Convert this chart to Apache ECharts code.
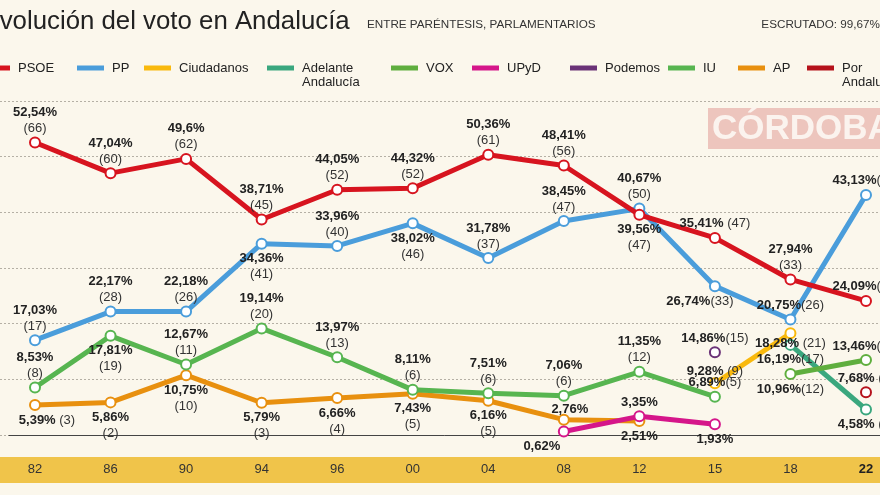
<!DOCTYPE html>
<html>
<head>
<meta charset="utf-8">
<script src="https://cdn.jsdelivr.net/npm/echarts@6/dist/echarts.min.js"></script>
<style>
html,body{margin:0;padding:0;background:#fbf7ec;}
#c{width:880px;height:495px;}
</style>
</head>
<body>
<div id="c"></div>
<script>
// ---------- DATA ----------
const years = ['82','86','90','94','96','00','04','08','12','15','18','22'];
const psoe      = [52.54,47.04,49.6,38.71,44.05,44.32,50.36,48.41,39.56,35.41,27.94,24.09];
const psoeSeats = [66,60,62,45,52,52,61,56,47,47,33,30];
const pp        = [17.03,22.17,22.18,34.36,33.96,38.02,31.78,38.45,40.67,26.74,20.75,43.13];
const ppSeats   = [17,28,26,41,40,46,37,47,50,33,26,58];
const cs        = [null,null,null,null,null,null,null,null,null,9.28,18.28,null];
const csSeats   = [null,null,null,null,null,null,null,null,null,9,21,null];
const adelante      = [null,null,null,null,null,null,null,null,null,null,16.19,4.58];
const adelanteSeats = [null,null,null,null,null,null,null,null,null,null,17,2];
const vox       = [null,null,null,null,null,null,null,null,null,null,10.96,13.46];
const voxSeats  = [null,null,null,null,null,null,null,null,null,null,12,14];
const upyd      = [null,null,null,null,null,null,null,0.62,3.35,1.93,null,null];
const upydSeats = [null,null,null,null,null,null,null,null,null,null,null,null];
const podemos      = [null,null,null,null,null,null,null,null,null,14.86,null,null];
const podemosSeats = [null,null,null,null,null,null,null,null,null,15,null,null];
const iu        = [8.53,17.81,12.67,19.14,13.97,8.11,7.51,7.06,11.35,6.89,null,null];
const iuSeats   = [8,19,11,20,13,6,6,6,12,5,null,null];
const ap        = [5.39,5.86,10.75,5.79,6.66,7.43,6.16,2.76,2.51,null,null,null];
const apSeats   = [3,2,10,3,4,5,5,null,null,null,null,null];
const porAnd      = [null,null,null,null,null,null,null,null,null,null,null,7.68];
const porAndSeats = [null,null,null,null,null,null,null,null,null,null,null,5];

// ---------- STYLE ----------
const colors = {
  'PSOE':'#d7141f','PP':'#4a9ddb','Ciudadanos':'#f9b90d','Adelante Andalucía':'#3aa77e',
  'VOX':'#5fae3e','UPyD':'#d5168a','Podemos':'#6a3277','IU':'#57b550','AP':'#e8900f','Por Andalucía':'#b5121b'
};
// label placement per point: t/b = two lines above/below, t1/b1 = one line; sp = space before seats
const place = {
  'PSOE': ['t','t','t','t','t','t','t','t','b',{p:'t1',sp:1},'t','t1'],
  'PP':   ['t','t','t','b','t','b','t','t','t',{p:'b1',dx:-15},'t1','t1'],
  'IU':   ['t','b','t','t','t','t','t','t','t','t1'],
  'AP':   [{p:'b1',dx:12,sp:1},'b','b','b','b','b','b',{p:'t1',dx:6,d:-4},'b1'],
  'UPyD': [null,null,null,null,null,null,null,{p:'b1',dx:-22},'t1','b1'],
  'Ciudadanos': [null,null,null,null,null,null,null,null,null,{p:'t1',sp:1,d:-2},{p:'b1',sp:1,d:-4}],
  'Podemos': [null,null,null,null,null,null,null,null,null,'t1'],
  'Adelante Andalucía': [null,null,null,null,null,null,null,null,null,null,'b1',{p:'b1',sp:1}],
  'VOX': [null,null,null,null,null,null,null,null,null,null,'b1','t1'],
  'Por Andalucía': [null,null,null,null,null,null,null,null,null,null,null,{p:'t1',sp:1}]
};

const fmt = v => String(v).replace('.', ',') + '%';

function makeSeries(name, vals, seats, z) {
  const col = colors[name];
  const pl = place[name];
  const data = vals.map((v, i) => {
    if (v === null) return null;
    let spec = pl[i] || 't1';
    if (typeof spec === 'string') spec = {p: spec};
    const two = spec.p.length === 1;
    const pos = spec.p[0] === 't' ? 'top' : 'bottom';
    const s = seats[i];
    let text = '{p|' + fmt(v) + '}';
    if (s !== null && s !== undefined) {
      text += two ? '\n{s|(' + s + ')}' : '{s|' + (spec.sp ? ' ' : '') + '(' + s + ')}';
    }
    return {
      value: v,
      label: {
        show: true, position: pos,
        distance: spec.d !== undefined ? spec.d : (pos === 'top' ? 0 : 1),
        offset: [spec.dx || 0, 0],
        formatter: text
      }
    };
  });
  return {
    name, type: 'line', data, z,
    xAxisIndex: 0, yAxisIndex: 0,
    symbol: 'emptyCircle', symbolSize: 10, showAllSymbol: true,
    color: col,
    lineStyle: {width: 5, color: col},
    itemStyle: {color: col, borderWidth: 2.5},
    emphasis: {disabled: true},
    label: {
      rich: {
        p: {fontFamily: 'Liberation Sans', fontSize: 13, fontWeight: 'bold', color: '#222', lineHeight: 16},
        s: {fontFamily: 'Liberation Sans', fontSize: 13, color: '#333', lineHeight: 16}
      }
    }
  };
}

const series = [
  makeSeries('AP', ap, apSeats, 2),
  makeSeries('IU', iu, iuSeats, 3),
  makeSeries('UPyD', upyd, upydSeats, 3),
  makeSeries('Ciudadanos', cs, csSeats, 3),
  makeSeries('Podemos', podemos, podemosSeats, 3),
  makeSeries('Adelante Andalucía', adelante, adelanteSeats, 3),
  makeSeries('VOX', vox, voxSeats, 3),
  makeSeries('Por Andalucía', porAnd, porAndSeats, 3),
  makeSeries('PP', pp, ppSeats, 4),
  makeSeries('PSOE', psoe, psoeSeats, 5)
];

const legendPos = [
  ['PSOE', -17, false], ['PP', 77, false], ['Ciudadanos', 144, false],
  ['Adelante Andalucía', 267, true], ['VOX', 391, false], ['UPyD', 472, false],
  ['Podemos', 570, false], ['IU', 668, false], ['AP', 738, false], ['Por Andalucía', 807, true]
];
const legends = legendPos.map(([name, left, two]) => ({
  data: [{name, icon: 'rect', itemStyle: {color: colors[name], borderWidth: 0}}],
  left, top: two ? 47 : 61, padding: 0,
  itemWidth: 27, itemHeight: 5, selectedMode: false,
  formatter: n => two ? ' \n' + n.replace(' ', '\n') : n,
  textStyle: {fontFamily: 'Liberation Sans', fontSize: 13, color: '#222', lineHeight: 14,
              padding: [0, 0, 0, 3]}
}));

const chart = echarts.init(document.getElementById('c'), null, {renderer: 'canvas'});
chart.setOption({
  backgroundColor: '#fbf7ec',
  animation: false,
  legend: legends,
  grid: [
    {left: 35, right: 14, top: 101, bottom: 60},
    {left: 0, right: 0, top: 101, bottom: 60},
    {left: 9, right: 0, top: 101, bottom: 60}
  ],
  xAxis: [
    {type: 'category', data: years, boundaryGap: false, gridIndex: 0,
     axisLine: {show: false}, axisTick: {show: false},
     axisLabel: {margin: 28, fontFamily: 'Liberation Sans', fontSize: 13, color: '#333',
       formatter: v => v === '22' ? '{b|' + v + '}' : v,
       rich: {b: {fontFamily: 'Liberation Sans', fontSize: 13, fontWeight: 'bold', color: '#222'}}},
     z: 5},
    {type: 'value', gridIndex: 1, show: false, min: 0, max: 1},
    {type: 'value', gridIndex: 2, min: 0, max: 1, axisLine: {show: true, onZero: false, lineStyle: {color: '#444', width: 1}},
     axisTick: {show: false}, axisLabel: {show: false}, splitLine: {show: false}}
  ],
  yAxis: [
    {type: 'value', gridIndex: 0, min: 0, max: 60, interval: 10, show: false, splitLine: {show: false}},
    {type: 'value', gridIndex: 1, min: 0, max: 60, interval: 10,
     axisLine: {show: false}, axisTick: {show: false}, axisLabel: {show: false},
     splitLine: {show: true, lineStyle: {color: '#b5b0a5', type: [2, 2], width: 1}}},
    {type: 'value', gridIndex: 2, min: 0, max: 60, show: false}
  ],
  graphic: [
    {type: 'rect', left: 0, top: 457, z: -1, shape: {width: 880, height: 26}, style: {fill: '#f0c44a'}},
    {type: 'rect', x: 708, y: 108, z: -1, shape: {width: 180, height: 41}, style: {fill: '#edc5bd'}},
    {type: 'text', x: 712, y: 129, z: 0, style: {text: 'CÓRDOBA', font: 'bold 35px Liberation Sans', fill: '#fbf3ee', verticalAlign: 'middle'}},
    {type: 'text', x: -17.5, y: 22, style: {text: 'Evolución del voto en Andalucía', font: '25.8px Liberation Sans', fill: '#222', verticalAlign: 'middle'}},
    {type: 'text', x: 367, y: 25, style: {text: 'ENTRE PARÉNTESIS, PARLAMENTARIOS', font: '11.7px Liberation Sans', fill: '#333', verticalAlign: 'middle'}},
    {type: 'text', x: 880, y: 25, style: {text: 'ESCRUTADO: 99,67%', font: '11.7px Liberation Sans', fill: '#333', verticalAlign: 'middle', align: 'right'}}
  ],
  series
});
</script>
</body>
</html>
